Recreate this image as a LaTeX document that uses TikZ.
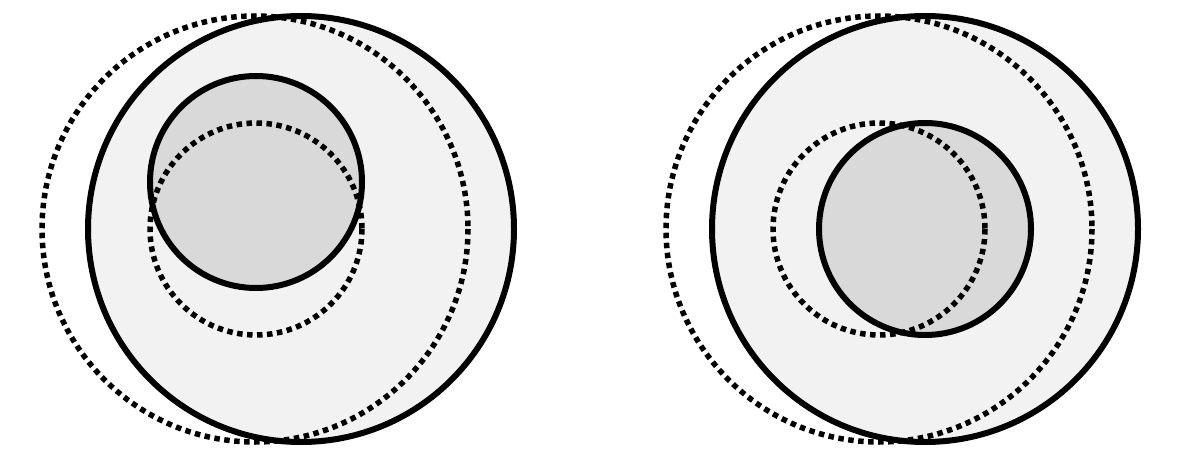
\documentclass[tikz,border=0pt]{standalone}
\begin{document}
\begin{tikzpicture}[x=1pt,y=-1pt,
  solidc/.style={draw=black,line width=6pt},
  dotc/.style={draw=black,line width=5.5pt,dash pattern=on 5.5pt off 4.5pt},
  bigfill/.style={fill=black!5},
  smallfill/.style={fill=black!15}]
\useasboundingbox (0,0) rectangle (1196,457);
% left
\path[solidc,bigfill] (301,229) circle (213);
\path[dotc] (255,229) circle (213);
\path[solidc,smallfill] (256,182) circle (106);
\path[dotc] (256,229) circle (106);
% right
\path[solidc,bigfill] (925,229) circle (213);
\path[dotc] (879,229) circle (213);
\path[solidc,smallfill] (925,229) circle (106);
\path[dotc] (879,229) circle (106);
\end{tikzpicture}
\end{document}
